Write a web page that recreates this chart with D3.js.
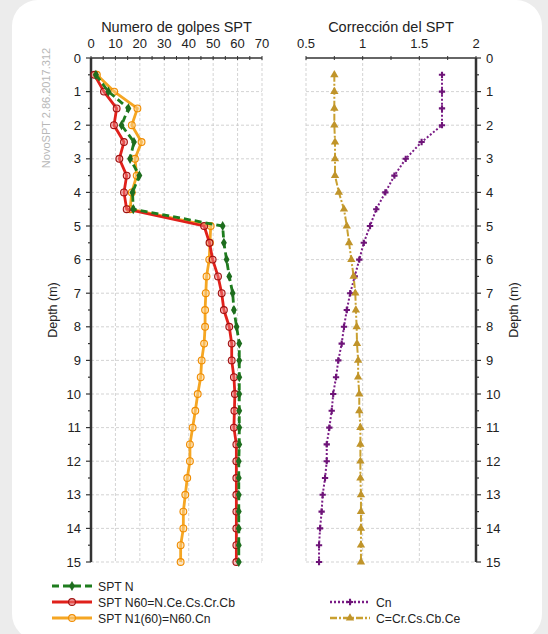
<!DOCTYPE html>
<html>
<head>
<meta charset="utf-8">
<script src="https://cdn.jsdelivr.net/npm/d3@7"></script>
<style>
  html, body { margin: 0; padding: 0; background: #ececec; }
  svg { display: block; font-family: "Liberation Sans", Arial, sans-serif; }
</style>
</head>
<body>
<svg id="chart" width="548" height="634"></svg>
<script>
// depth of each reading (m)
const depth = [0.5, 1, 1.5, 2, 2.5, 3, 3.5, 4, 4.5, 5, 5.5, 6, 6.5, 7, 7.5,
  8, 8.5, 9, 9.5, 10, 10.5, 11, 11.5, 12, 12.5, 13, 13.5, 14, 14.5, 15];

// left panel: blow counts
const sptN = [2, 7.1, 15.3, 12.5, 17.6, 16, 19.8, 17, 17.3, 53.9, 54.4, 55.5, 56.6, 58, 58.5,
  59.6, 60.7, 60.7, 60.7, 60.7, 60.7, 60.7, 60.7, 60.5, 60.5, 60.5, 60.5, 60.5, 60.5, 60.5];
const n60 = [1.4, 5.3, 10.5, 9.4, 13.5, 11.6, 14.6, 13.5, 14.6, 46.3, 48.5, 49.8, 52, 53.5, 54.4,
  56.6, 57.6, 57.6, 58.5, 58.9, 58.7, 58.5, 59.5, 59.5, 59.5, 59.5, 59.5, 59.5, 59.5, 59.5];
const n160 = [2.4, 9.5, 19, 16.7, 20.7, 18, 18.7, 16.7, 16, 49, 48.7, 48.4, 47.3, 47, 46.7,
  46.7, 46.3, 45.3, 44.9, 43.7, 42.7, 41.6, 40.5, 40.5, 39.4, 38.6, 37.8, 37.8, 36.7, 36.7];

// right panel: correction factors
const cn = [1.7, 1.7, 1.7, 1.7, 1.52, 1.38, 1.28, 1.2, 1.12, 1.065, 1.01, 0.97, 0.93, 0.89, 0.86,
  0.835, 0.815, 0.785, 0.765, 0.74, 0.727, 0.706, 0.683, 0.683, 0.668, 0.647, 0.638, 0.624, 0.615, 0.615];
const cCorr = [0.75, 0.75, 0.75, 0.75, 0.756, 0.756, 0.756, 0.79, 0.835, 0.86, 0.88, 0.9, 0.92, 0.935, 0.94,
  0.947, 0.95, 0.96, 0.96, 0.97, 0.97, 0.98, 0.98, 0.98, 0.98, 0.985, 0.985, 0.985, 0.985, 0.985];

const depthTicks = d3.range(0, 16);
const blowTicks = [0, 10, 20, 30, 40, 50, 60, 70];
const corrTicks = [0.5, 1, 1.5, 2];

const svg = d3.select('#chart');

// card
svg.append('rect')
  .attr('x', 12).attr('y', 0).attr('width', 530).attr('height', 640)
  .attr('rx', 26).attr('fill', '#fff');

// watermark
svg.append('text')
  .attr('transform', 'translate(50,108) rotate(-90)')
  .attr('text-anchor', 'middle')
  .attr('font-size', 11).attr('fill', '#b8b8b8')
  .text('NovoSPT 2.86.2017.312');

const yTop = 58, yBottom = 562;
const y = d3.scaleLinear().domain([0, 15]).range([yTop, yBottom]);
const xL = d3.scaleLinear().domain([0, 70]).range([91, 262]);
const xR = d3.scaleLinear().domain([0.5, 2]).range([306, 476]);

const gridColor = '#c8c8c8';
const axisColor = '#333';

function panel(x, ticks, minorStep, yOnLeft, title) {
  const [x0, x1] = x.range();
  const g = svg.append('g');

  // grid
  g.selectAll('.vg').data(ticks).enter().append('line')
    .attr('x1', d => x(d)).attr('x2', d => x(d))
    .attr('y1', yTop).attr('y2', yBottom)
    .attr('stroke', gridColor).attr('stroke-dasharray', '3,2').attr('stroke-width', 0.8);
  g.selectAll('.hg').data(depthTicks.slice(1)).enter().append('line')
    .attr('x1', x0).attr('x2', x1)
    .attr('y1', d => y(d)).attr('y2', d => y(d))
    .attr('stroke', gridColor).attr('stroke-dasharray', '3,2').attr('stroke-width', 0.8);

  // top axis
  const [d0, d1] = x.domain();
  const minor = d3.range(d0, d1 + 1e-9, minorStep);
  g.append('line').attr('x1', x0).attr('x2', x1).attr('y1', yTop).attr('y2', yTop)
    .attr('stroke', axisColor).attr('stroke-width', 1.5);
  g.selectAll('.mt').data(minor).enter().append('line')
    .attr('x1', d => x(d)).attr('x2', d => x(d))
    .attr('y1', yTop - 2).attr('y2', yTop + 2)
    .attr('stroke', axisColor).attr('stroke-width', 1);
  g.selectAll('.tl').data(ticks).enter().append('text')
    .attr('x', d => x(d)).attr('y', yTop - 10)
    .attr('text-anchor', 'middle').attr('font-size', 13).attr('fill', '#222')
    .text(d => d);
  g.append('text')
    .attr('x', (x0 + x1) / 2).attr('y', yTop - 26)
    .attr('text-anchor', 'middle').attr('font-size', 14.5).attr('fill', '#222')
    .text(title);

  // depth axis
  const ax = yOnLeft ? x0 : x1;
  const dir = yOnLeft ? -1 : 1;
  g.append('line').attr('x1', ax).attr('x2', ax).attr('y1', yTop).attr('y2', yBottom)
    .attr('stroke', axisColor).attr('stroke-width', 2.5);
  g.selectAll('.yt').data(d3.range(0, 15.01, 0.5)).enter().append('line')
    .attr('x1', ax).attr('x2', d => ax + dir * (Number.isInteger(d) ? 5 : 3))
    .attr('y1', d => y(d)).attr('y2', d => y(d))
    .attr('stroke', axisColor).attr('stroke-width', 1.2);
  g.selectAll('.yl').data(depthTicks).enter().append('text')
    .attr('x', ax + dir * 10).attr('y', d => y(d) + 4.5)
    .attr('text-anchor', yOnLeft ? 'end' : 'start')
    .attr('font-size', 13).attr('fill', '#222')
    .text(d => d);
  const lx = yOnLeft ? ax - 34 : ax + 42;
  g.append('text')
    .attr('transform', `translate(${lx},${(yTop + yBottom) / 2}) rotate(-90)`)
    .attr('text-anchor', 'middle').attr('font-size', 12.5).attr('fill', '#222')
    .text('Depth (m)');
}

panel(xL, blowTicks, 5, true, 'Numero de golpes SPT');
panel(xR, corrTicks, 0.25, false, 'Corrección del SPT');

const series = [
  { vals: n160, x: xL, color: '#f5a623', dash: null, width: 2.8, sym: 'circle', mFill: '#fbd08a', mStroke: '#f08c00', label: 'SPT N1(60)=N60.Cn' },
  { vals: n60, x: xL, color: '#e0201b', dash: null, width: 2.8, sym: 'circle', mFill: '#f08080', mStroke: '#a01010', label: 'SPT N60=N.Ce.Cs.Cr.Cb' },
  { vals: sptN, x: xL, color: '#1e7d1e', dash: '7,4', width: 2.8, sym: d3.symbolDiamond, mFill: '#1e6d1e', mStroke: 'none', label: 'SPT N' },
  { vals: cn, x: xR, color: '#7a1c86', dash: '2,2', width: 2, sym: d3.symbolCross, mFill: '#6e1478', mStroke: 'none', label: 'Cn' },
  { vals: cCorr, x: xR, color: '#c9a030', dash: '7,2,2,2', width: 2, sym: d3.symbolTriangle, mFill: '#c0942a', mStroke: 'none', label: 'C=Cr.Cs.Cb.Ce' }
];

function marker(g, s, cx, cy) {
  if (s.sym === 'circle') {
    g.append('circle').attr('cx', cx).attr('cy', cy).attr('r', 3.4)
      .attr('fill', s.mFill).attr('fill-opacity', 0.5)
      .attr('stroke', s.mStroke).attr('stroke-width', 1.1);
  } else {
    const size = s.sym === d3.symbolCross ? 22 : 30;
    g.append('path')
      .attr('transform', `translate(${cx},${cy})`)
      .attr('d', d3.symbol().type(s.sym).size(size)())
      .attr('fill', s.mFill);
  }
}

series.forEach(s => {
  const g = svg.append('g');
  const pts = depth.map((d, i) => [s.x(s.vals[i]), y(d)]);
  g.append('path')
    .attr('d', d3.line()(pts))
    .attr('fill', 'none').attr('stroke', s.color)
    .attr('stroke-width', s.width)
    .attr('stroke-dasharray', s.dash)
    .attr('stroke-linejoin', 'round');
  pts.forEach(p => marker(g, s, p[0], p[1]));
});

// legend
const legendRows = [
  { s: series[2], x: 52, y: 586 },
  { s: series[1], x: 52, y: 602 },
  { s: series[0], x: 52, y: 618 },
  { s: series[3], x: 330, y: 602 },
  { s: series[4], x: 330, y: 618 }
];
legendRows.forEach(r => {
  const g = svg.append('g');
  g.append('line').attr('x1', r.x).attr('x2', r.x + 40)
    .attr('y1', r.y).attr('y2', r.y)
    .attr('stroke', r.s.color).attr('stroke-width', r.s.width + 0.4)
    .attr('stroke-dasharray', r.s.dash);
  marker(g, r.s, r.x + 20, r.y);
  g.append('text')
    .attr('x', r.x + 46).attr('y', r.y + 4.5)
    .attr('font-size', 12.2).attr('fill', '#222')
    .text(r.s.label);
});
</script>
</body>
</html>
